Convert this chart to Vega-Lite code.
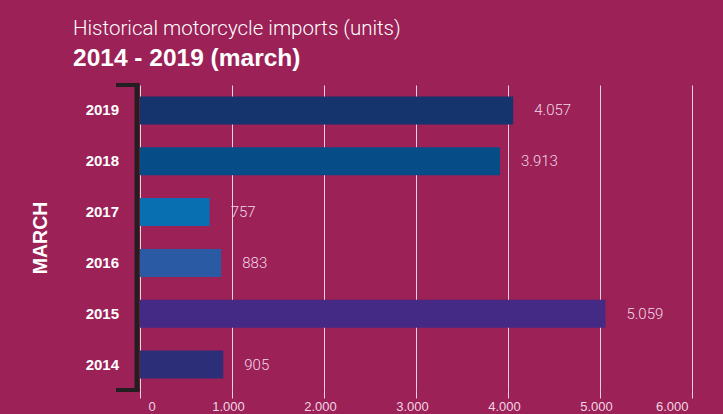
{
  "$schema": "https://vega.github.io/schema/vega-lite/v6.json",
  "width": 552,
  "height": 305,
  "autosize": "none",
  "padding": {"left": 140, "top": 85, "right": 31, "bottom": 24},
  "background": "#9b2157",
  "config": {
    "view": {"stroke": null},
    "locale": {"number": {"decimal": ",", "thousands": ".", "grouping": [3], "currency": ["", ""]}}
  },
  "title": {
    "text": "Historical motorcycle imports (units)",
    "subtitle": "2014 - 2019 (march)",
    "anchor": "start",
    "frame": "group",
    "dx": -67,
    "offset": 13,
    "font": "Roboto",
    "fontSize": 20.5,
    "fontWeight": 300,
    "color": "white",
    "subtitleFont": "Liberation Sans",
    "subtitleFontSize": 24.5,
    "subtitleFontWeight": "bold",
    "subtitleColor": "white",
    "subtitlePadding": 7
  },
  "data": {
    "values": [
      {"year": "2019", "units": 4057},
      {"year": "2018", "units": 3913},
      {"year": "2017", "units": 757},
      {"year": "2016", "units": 883},
      {"year": "2015", "units": 5059},
      {"year": "2014", "units": 905}
    ]
  },
  "layer": [
    {
      "layer": [
        {
          "mark": {"type": "bar"},
          "encoding": {
            "y": {
              "field": "year",
              "type": "nominal",
              "sort": "descending",
              "scale": {"paddingInner": 0.45, "paddingOuter": 0.225},
              "axis": {
                "title": "MARCH",
                "titleFont": "Liberation Sans",
                "titleFontSize": 19.5,
                "titleFontWeight": "bold",
                "titleColor": "white",
                "titlePadding": 35,
                "labelFont": "Liberation Sans",
                "labelFontSize": 15,
                "labelFontWeight": "bold",
                "labelColor": "white",
                "labelPadding": 18,
                "ticks": false,
                "domain": true,
                "domainColor": "#231f20",
                "domainWidth": 5,
                "offset": 3.5,
                "grid": false
              }
            },
            "x": {
              "field": "units",
              "type": "quantitative",
              "scale": {"domain": [0, 6000], "nice": false},
              "axis": {
                "title": null,
                "format": ",d",
                "values": [0, 1000, 2000, 3000, 4000, 5000, 6000],
                "grid": true,
                "gridColor": "white",
                "gridOpacity": 0.8,
                "domain": false,
                "ticks": true,
                "tickColor": "white",
                "tickOpacity": 0.8,
                "tickSize": 8,
                "labelFont": "Liberation Sans",
                "labelFontSize": 13,
                "labelColor": "#f2d4e2",
                "labelPadding": 2,
                "labelOffset": {"condition": {"test": "datum.value == 0", "value": 8}, "value": -4}
              }
            },
            "color": {
              "field": "year",
              "type": "nominal",
              "scale": {
                "domain": ["2019", "2018", "2017", "2016", "2015", "2014"],
                "range": ["#15336d", "#064c86", "#0870b0", "#295aa3", "#452a85", "#2d2e78"]
              },
              "legend": null
            }
          }
        },
        {
          "mark": {"type": "text", "align": "left", "baseline": "middle", "dx": 21, "font": "Roboto", "fontWeight": 300, "fontSize": 15, "color": "#f3d7e5"},
          "encoding": {
            "y": {"field": "year", "type": "nominal", "sort": "descending"},
            "x": {"field": "units", "type": "quantitative"},
            "text": {"field": "units", "type": "quantitative", "format": ",d"}
          }
        }
      ]
    },
    {
      "layer": [
        {
          "mark": {"type": "rule", "color": "#231f20", "strokeWidth": 4},
          "encoding": {
            "x": {"datum": -260},
            "x2": {"datum": -10},
            "y": {"datum": 1, "type": "quantitative", "scale": {"domain": [0, 1]}, "axis": null}
          }
        },
        {
          "mark": {"type": "rule", "color": "#231f20", "strokeWidth": 4},
          "encoding": {
            "x": {"datum": -260},
            "x2": {"datum": -10},
            "y": {"datum": 0, "type": "quantitative", "scale": {"domain": [0, 1]}, "axis": null}
          }
        }
      ]
    }
  ],
  "resolve": {"scale": {"y": "independent"}}
}
